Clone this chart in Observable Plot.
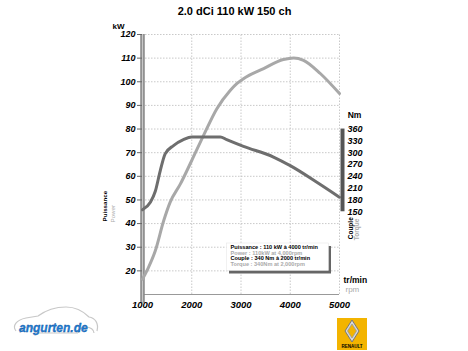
<!DOCTYPE html>
<html><head><meta charset="utf-8">
<script src="https://cdn.jsdelivr.net/npm/d3@7"></script>
<script src="https://cdn.jsdelivr.net/npm/@observablehq/plot@0.6"></script>
<style>body{margin:0;background:#fff} svg{display:block;background:#fff}</style>
</head><body><div id="chart"></div>
<script>
const title = "2.0 dCi 110 kW 150 ch";
const powerRpm = [1000,1120,1260,1430,1560,1770,2000,2240,2510,2780,2920,3050,3460,3860,4070,4270,4610,5000];
const powerKw  = [16.5,21.4,28.5,41.2,49,56.8,66.7,77.3,88.6,96.3,99.3,101.3,105.6,109.4,110.1,109.1,103.5,95];
const torqueRpm = [1000,1160,1260,1360,1460,1630,1830,2000,2580,2710,3050,3660,4000,4540,5000];
const torqueNm  = [155,174,202,254,297,318,333,340,340,333,316,289,267,225,187];
const rpmTicks = [1000,2000,3000,4000,5000];
const kwTicks = [20,30,40,50,60,70,80,90,100,110,120];
const nmTicks = [150,180,210,240,270,300,330,360];
const legendLines = [
  {text: "Puissance : 110 kW à 4000 tr/min", color: "#000"},
  {text: "Power : 110kW at 4,000rpm", color: "#aaa"},
  {text: "Couple : 340 Nm à 2000 tr/min", color: "#000"},
  {text: "Torque : 340Nm at 2,000rpm", color: "#aaa"}
];

const nmToKw = t => (t + 120) / 6;
const kwToNm = p => Math.round(p * 6 - 120);
const power = powerRpm.map((r, i) => ({rpm: r, kw: powerKw[i]}));
const torque = torqueRpm.map((r, i) => ({rpm: r, kw: nmToKw(torqueNm[i])}));
const xMin = rpmTicks[0], xMax = rpmTicks[rpmTicks.length - 1];
const yMin = 10, yMax = kwTicks[kwTicks.length - 1];
const FONT = "Liberation Sans, Arial, sans-serif";
const lab = {fontFamily: FONT, fontWeight: "bold"};

const legendMarks = legendLines.map((l, i) =>
  Plot.text([l.text], {frameAnchor: "bottom-left", dx: 88, dy: -45.3 + i * 5.5, text: d => d,
    textAnchor: "start", fill: l.color, fontSize: 5.6, ...lab}));

const chart = Plot.plot({
  width: 468, height: 351,
  marginLeft: 142, marginRight: 129, marginTop: 34, marginBottom: 57,
  style: {fontFamily: FONT, background: "#fff"},
  x: {domain: [xMin, xMax], axis: null},
  y: {domain: [yMin, yMax], axis: null},
  marks: [
    Plot.ruleY(kwTicks, {x1: xMin, x2: xMax, stroke: "#bbb", strokeDasharray: "1.5,1.5", strokeWidth: 0.8}),
    Plot.ruleX(rpmTicks.slice(1), {y1: yMin, y2: yMax, stroke: "#bbb", strokeDasharray: "1.5,1.5", strokeWidth: 0.8}),
    Plot.ruleY([yMin], {x1: xMin, x2: xMax, stroke: "#999", strokeWidth: 1}),
    Plot.ruleX([xMin], {y1: yMax, y2: 6.3, stroke: "#888", strokeWidth: 4.5}),
    Plot.ruleX([xMin], {y1: yMax, y2: 6.3, stroke: "#c8c8c8", strokeWidth: 1.3}),
    Plot.ruleX([xMax], {y1: nmToKw(nmTicks[nmTicks.length - 1]), y2: nmToKw(nmTicks[0]), dx: 3, stroke: "#555", strokeWidth: 4}),
    Plot.line(power, {x: "rpm", y: "kw", stroke: "#a8a8a8", strokeWidth: 3, curve: "monotone-x"}),
    Plot.line(torque, {x: "rpm", y: "kw", stroke: "#6e6e6e", strokeWidth: 3, curve: "monotone-x"}),
    Plot.axisX(rpmTicks, {tickSize: 0, tickPadding: 7, tickFormat: d => String(d), fontSize: 9.5, ...lab, fill: "#000", label: null}),
    Plot.axisY(kwTicks, {anchor: "left", tickSize: 5, tickPadding: 2, fontSize: 9, ...lab, fill: "#000", stroke: "#666", label: null}),
    Plot.axisY(nmTicks.map(nmToKw), {anchor: "right", tickSize: 0, tickPadding: 8, tickFormat: kwToNm, fontSize: 9, ...lab, fill: "#000", label: null}),
    Plot.text([title], {frameAnchor: "top", dx: -6.5, dy: -27, text: d => d, fontSize: 11, ...lab, fill: "#000"}),
    Plot.text(["kW"], {frameAnchor: "top-left", dx: -30, dy: -11.5, text: d => d, fontSize: 8, ...lab, fill: "#000"}),
    Plot.text(["Nm"], {x: xMax, y: nmToKw(nmTicks[nmTicks.length - 1]), dx: 15, dy: -14, text: d => d, fontSize: 8.5, ...lab, fill: "#000"}),
    Plot.text(["Couple"], {x: xMax, y: nmToKw(nmTicks[0]), dx: 11.5, dy: 27.5, rotate: -90, textAnchor: "start", text: d => d, fontSize: 6.5, ...lab, fill: "#000"}),
    Plot.text(["Torque"], {x: xMax, y: nmToKw(nmTicks[0]), dx: 17.5, dy: 28.5, rotate: -90, textAnchor: "start", text: d => d, fontSize: 6.5, ...lab, fill: "#aaa"}),
    Plot.text(["Puissance"], {frameAnchor: "left", dx: -37, dy: 57, rotate: -90, textAnchor: "start", text: d => d, fontSize: 6.2, ...lab, fill: "#000"}),
    Plot.text(["Power"], {frameAnchor: "left", dx: -29.5, dy: 58, rotate: -90, textAnchor: "start", text: d => d, fontSize: 6.2, fontFamily: FONT, fill: "#aaa"}),
    Plot.text(["tr/min"], {frameAnchor: "bottom-right", dx: 4, dy: -12, textAnchor: "start", text: d => d, fontSize: 8.5, ...lab, fill: "#000"}),
    Plot.text(["rpm"], {frameAnchor: "bottom-right", dx: 6, dy: -2.5, textAnchor: "start", text: d => d, fontSize: 8, fontFamily: FONT, fill: "#aaa"}),
    ...legendMarks
  ]
});

document.getElementById("chart").append(chart);
const svg = d3.select(chart);
// italic numeric tick labels
svg.selectAll("text").filter(function() { return /^\d+$/.test(this.textContent.trim()); })
  .attr("font-style", "italic").style("font-style", "italic");
// legend box (behind legend text)
const firstText = chart.querySelector("g[aria-label='text']");
const box = d3.select(chart.insertBefore(document.createElementNS("http://www.w3.org/2000/svg", "g"), firstText));
box.append("rect").attr("x", 229).attr("y", 246).attr("width", 102).attr("height", 27.5).attr("fill", "#666");
box.append("rect").attr("x", 226.5).attr("y", 243).attr("width", 102).attr("height", 27.5).attr("fill", "#fff").attr("stroke", "#e4e4e4").attr("stroke-width", 0.5);

// angurten.de logo
const lg = svg.append("g").attr("text-anchor", "start");
lg.append("path").attr("d", "M16,331 C12,326 16,320 26,318 L38,316 C46,310 56,307 66,307 C77,307 84,312 89,317 C95,318 99,323 97,331")
  .attr("fill", "none").attr("stroke", "#c8c8c8").attr("stroke-width", 1.2);
lg.append("path").attr("d", "M20,333 A8,6 0 0 1 36,333 M78,333 A8,6 0 0 1 94,333 M36,333 L78,333")
  .attr("fill", "none").attr("stroke", "#c8c8c8").attr("stroke-width", 1.2);
lg.append("text").attr("x", 19).attr("y", 332).attr("text-anchor", "start").attr("font-family", FONT).attr("font-weight", "bold").attr("font-style", "italic")
  .attr("font-size", 12).attr("fill", "#1f7fd6").attr("stroke", "#0b4f9a").attr("stroke-width", 0.3).text("angurten.de");

// Renault logo
const rl = svg.append("g");
rl.append("rect").attr("x", 337).attr("y", 318).attr("width", 30).attr("height", 32).attr("fill", "#f3b400");
rl.append("path").attr("d", "M352,320 L359,331 L352,342 L345,331 Z").attr("fill", "#d8d8d8").attr("stroke", "#777").attr("stroke-width", 1);
rl.append("path").attr("d", "M352,324 L356.5,331 L352,338 L347.5,331 Z").attr("fill", "#f3b400").attr("stroke", "#999").attr("stroke-width", 0.8);
rl.append("text").attr("x", 352).attr("y", 348).attr("text-anchor", "middle").attr("font-family", FONT).attr("font-weight", "bold")
  .attr("font-size", 4.5).attr("fill", "#000").text("RENAULT");
</script>
</body></html>
